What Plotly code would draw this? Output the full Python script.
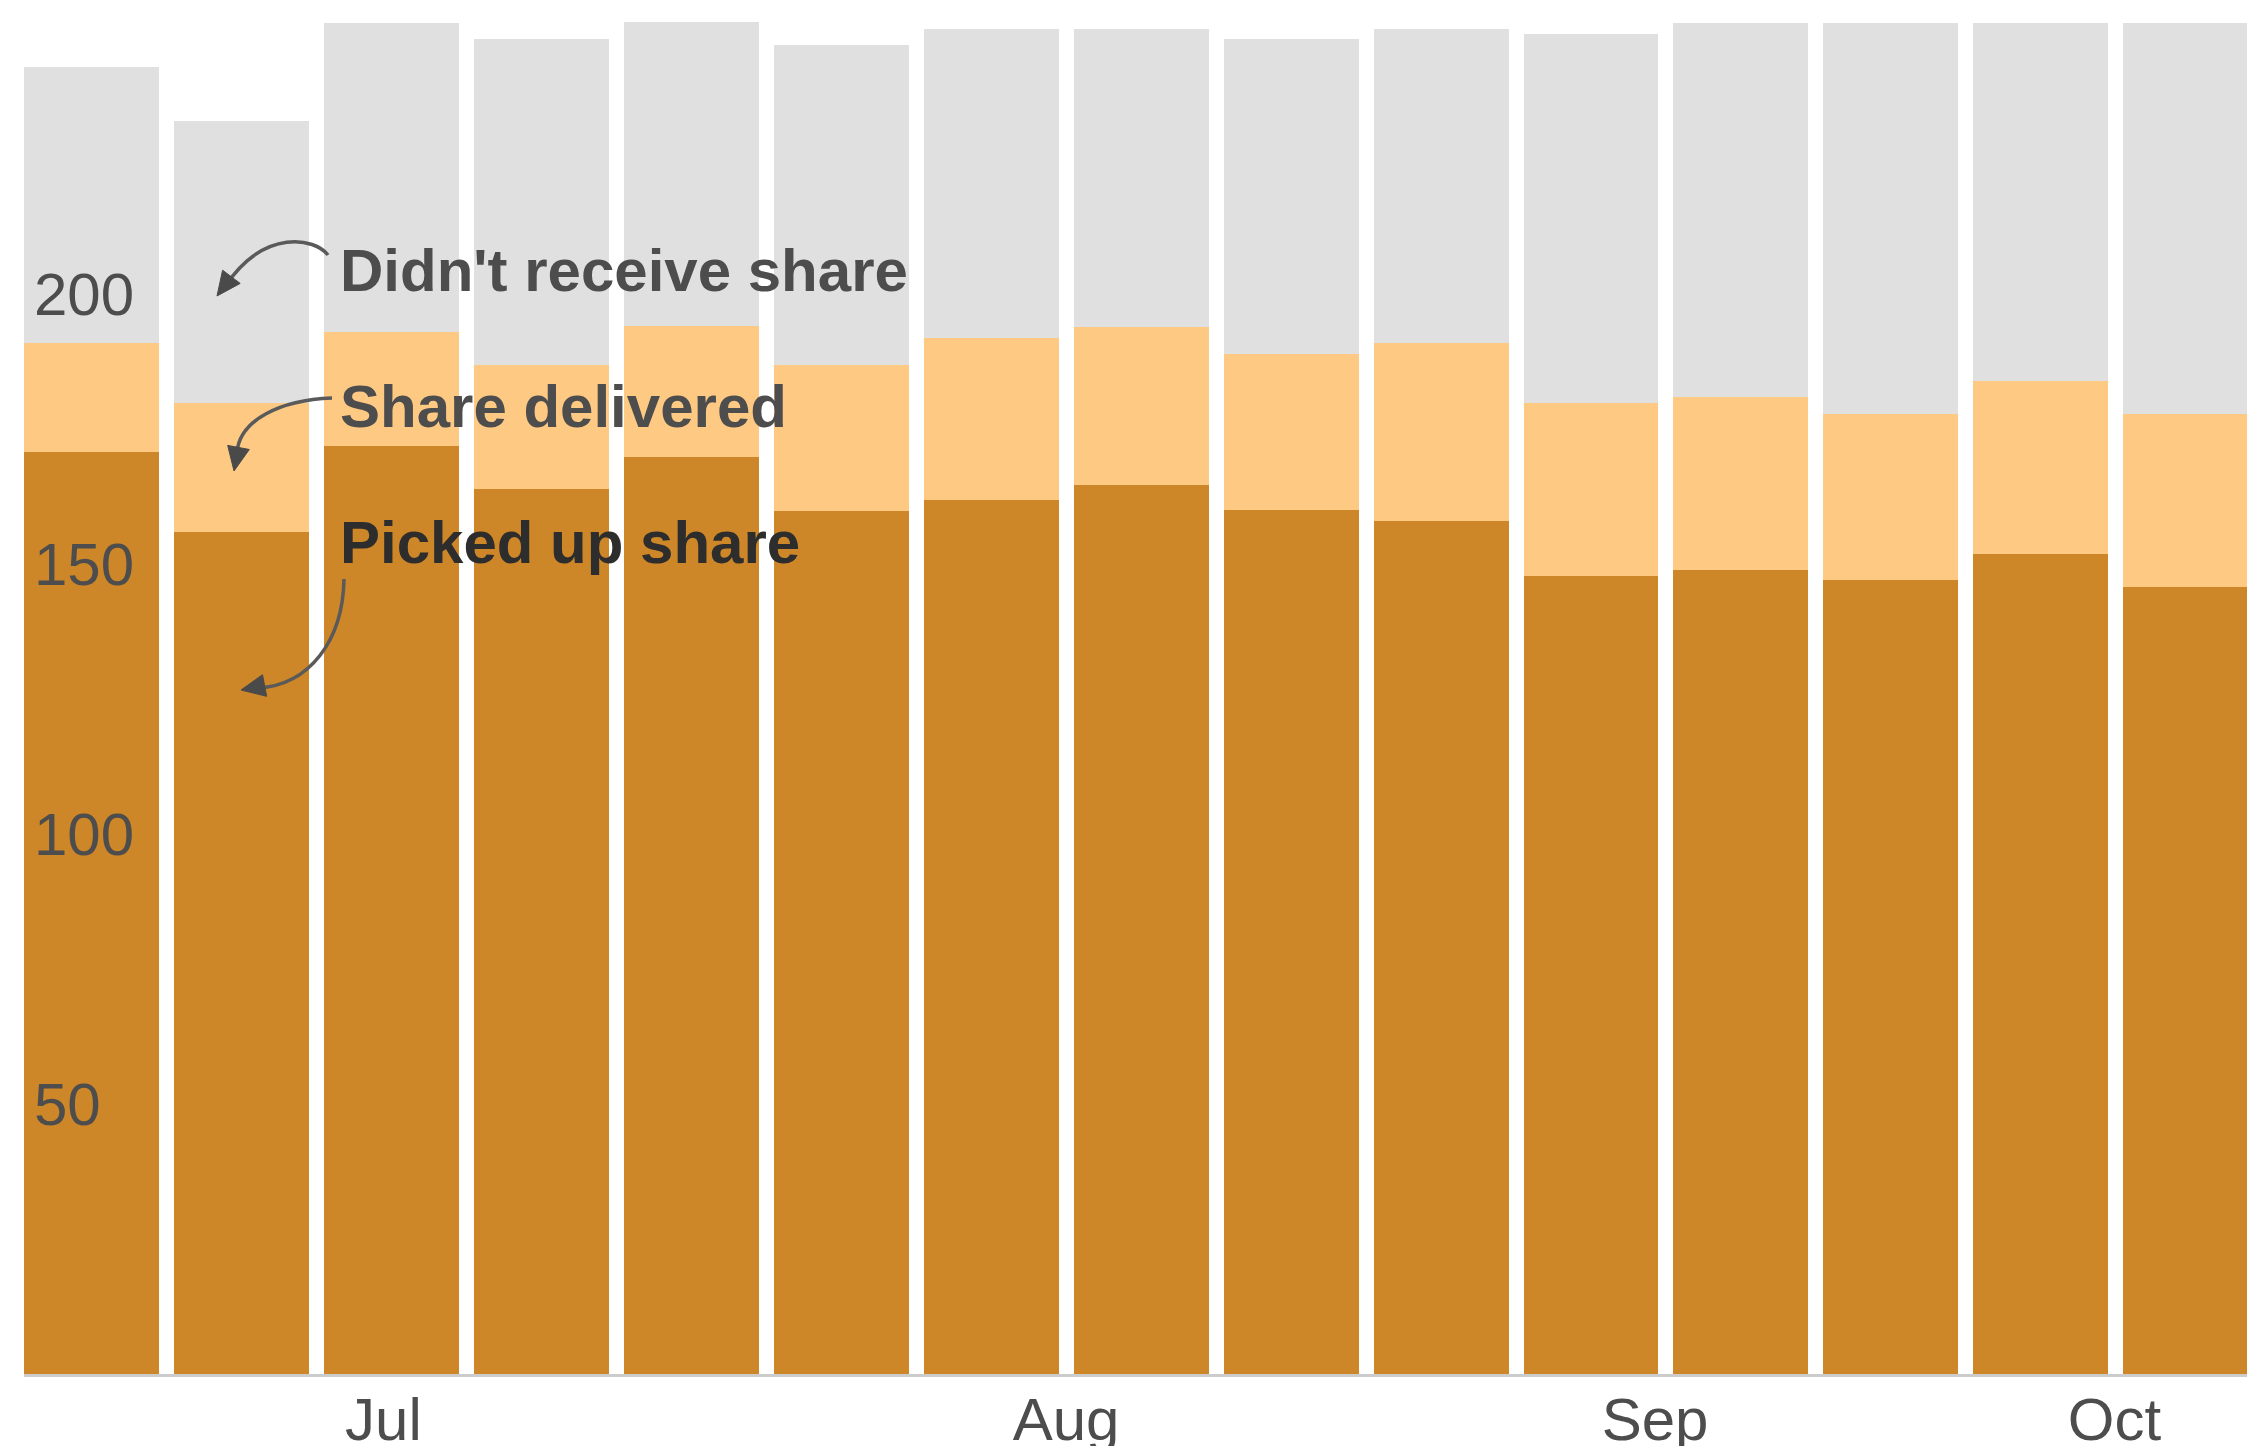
import plotly.graph_objects as go

# ---- data ----
weeks = list(range(15))
picked_up = [170.8, 156.0, 171.9, 163.9, 169.9, 159.9, 161.8, 164.7, 160.0, 157.9, 147.8, 148.8, 147.0, 151.9, 145.8]
delivered_total = [191.0, 179.9, 193.0, 186.9, 194.0, 186.9, 191.8, 193.9, 188.9, 190.9, 179.8, 180.9, 177.8, 183.9, 177.8]
eligible_total = [242.1, 232.1, 250.1, 247.2, 250.3, 246.2, 249.1, 249.1, 247.2, 249.1, 248.1, 250.1, 250.1, 250.1, 250.1]
month_labels = ["Jul", "Aug", "Sep", "Oct"]
month_positions = [1.947, 6.499, 10.427, 13.491]
y_ticks = [50, 100, 150, 200]

delivered_only = [d - p for d, p in zip(delivered_total, picked_up)]
not_received = [t - d for t, d in zip(eligible_total, delivered_total)]

# ---- layout geometry ----
W, H = 2247, 1446
ML, MR, MT, MB = 24, 0, 0, 72
PITCH = 149.95
X0 = -0.45
X1 = X0 + (W - ML - MR) / PITCH
PX_PER_UNIT = 5.4
Y1 = (H - MT - MB) / PX_PER_UNIT

def dx(px):
    return X0 + (px - ML) / PITCH

def dy(py):
    return (H - MB - py) / PX_PER_UNIT

DARK = "#CD8628"
LIGHT = "#FEC982"
GREY = "#E0E0E0"
TEXT = "#4D4D4D"

fig = go.Figure()
fig.add_bar(x=weeks, y=picked_up, marker_color=DARK, marker_line_width=0, name="Picked up share")
fig.add_bar(x=weeks, y=delivered_only, marker_color=LIGHT, marker_line_width=0, name="Share delivered")
fig.add_bar(x=weeks, y=not_received, marker_color=GREY, marker_line_width=0, name="Didn't receive share")

FONT = "Liberation Sans, Arial, Helvetica, sans-serif"

fig.update_layout(
    width=W, height=H,
    margin=dict(l=ML, r=MR, t=MT, b=MB, pad=0),
    barmode="stack", bargap=0.1,
    showlegend=False,
    paper_bgcolor="white", plot_bgcolor="white",
    font=dict(family=FONT, size=60, color=TEXT),
    xaxis=dict(range=[X0, X1], tickmode="array", tickvals=month_positions, ticktext=month_labels,
               showgrid=False, zeroline=False, showline=True, linecolor="#CCCCCC", linewidth=3,
               ticks="", ticklabelstandoff=-9, automargin=False,
               tickfont=dict(size=60, color=TEXT, family=FONT), fixedrange=True),
    yaxis=dict(range=[0, Y1], tickmode="array", tickvals=y_ticks, ticklabelposition="inside",
               ticklabelstandoff=7, automargin=False,
               showgrid=False, zeroline=False, showline=False, ticks="",
               tickfont=dict(size=60, color=TEXT, family=FONT), fixedrange=True),
)

# ---- annotation labels ----
labels = [
    ("Didn't receive share", 270, TEXT),
    ("Share delivered", 406, TEXT),
    ("Picked up share", 542, "#2D2D2D"),
]
for txt, py, col in labels:
    fig.add_annotation(x=dx(338), y=dy(py), xref="x", yref="y", text="<b>" + txt + "</b>",
                       showarrow=False, xanchor="left", yanchor="middle",
                       font=dict(size=60, color=col, family=FONT))

# ---- curved arrows (pixel geometry converted into data coords) ----
curves = [
    [(328, 255), (315, 238), (265, 228), (226, 285)],
    [(332, 398), (280, 400), (240, 420), (237, 452)],
    [(344, 579), (343, 640), (310, 685), (258, 688)],
]
heads = [
    ((217, 296), (-0.6, 0.8)),
    ((234, 471), (-0.187, 0.982)),
    ((241, 690), (-0.982, 0.187)),
]

def pt(p):
    return f"{dx(p[0])},{dy(p[1])}"

for c in curves:
    path = f"M {pt(c[0])} C {pt(c[1])} {pt(c[2])} {pt(c[3])}"
    fig.add_shape(type="path", path=path, xref="x", yref="y",
                  line=dict(color="#5A5A5A", width=3.5), layer="above")

L, HW = 24, 11
for (tx, ty), (ux, uy) in heads:
    bx, by = tx - L * ux, ty - L * uy
    nx, ny = -uy, ux
    p1 = (bx + HW * nx, by + HW * ny)
    p2 = (bx - HW * nx, by - HW * ny)
    path = f"M {pt((tx, ty))} L {pt(p1)} L {pt(p2)} Z"
    fig.add_shape(type="path", path=path, xref="x", yref="y",
                  line=dict(color="#4A4A4A", width=1), fillcolor="#4A4A4A", layer="above")

fig.write_html("out.html", config={"displayModeBar": False},
               post_script="document.body.style.margin='0px';document.body.style.overflow='hidden';")
